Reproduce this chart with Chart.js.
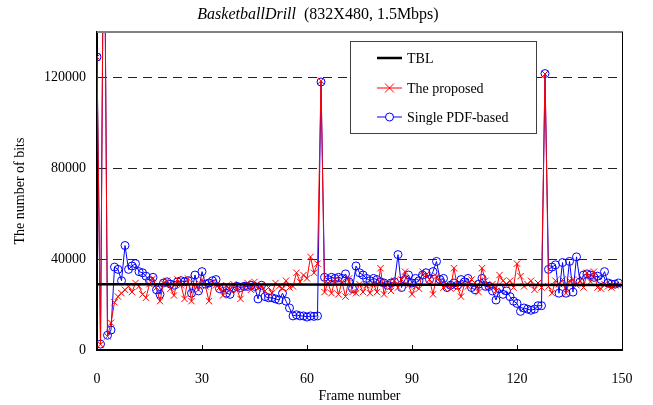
<!DOCTYPE html>
<html>
<head>
<meta charset="utf-8">
<script src="https://cdn.jsdelivr.net/npm/chart.js@4.4.1/dist/chart.umd.min.js"></script>
<style>
  html, body { margin: 0; padding: 0; background: #fff; }
  canvas { display: block; }
</style>
</head>
<body>
<canvas id="chart" width="653" height="405"></canvas>
<script>
const FONT = "'Liberation Serif', 'Times New Roman', serif";

// frame index 0..149
const frames = Array.from({ length: 150 }, (_, i) => i);

// target bit level (TBL)
const tblFrames = [0, 150];
const tblBits = [29000, 28600];

// "The proposed" bits per frame (frame 2 goes far above the plot)
const proposed = [
  129000, 2500, 220000, 6000, 12000, 21000, 23500, 25000, 26500, 28000,
  25500, 29500, 28000, 24500, 23000, 29000, 31500, 27500, 21500, 29500,
  30500, 27000, 24000, 31000, 28500, 22500, 31500, 21500, 29000, 26500,
  31000, 28000, 21500, 29500, 28500, 27500, 24000, 28500, 26500, 29000,
  26500, 22500, 28000, 29500, 26500, 30000, 27000, 28500, 26000, 27500,
  25000, 29500, 28000, 27000, 30500, 27500, 28000, 34000, 30000, 33000,
  31500, 41000, 34000, 38000, 118500, 25500, 29500, 25000, 31000, 24500,
  30000, 23500, 31500, 25500, 25000, 29000, 25500, 28500, 25000, 29000,
  25500, 36000, 24500, 29500, 26000, 30500, 27500, 31000, 34500, 28500,
  24500, 28000, 27000, 34500, 33000, 31000, 24500, 32500, 30000, 27500,
  28500, 27000, 36000, 27500, 23500, 29000, 28000, 31000, 29500, 25500,
  36000, 30500, 28000, 29000, 26000, 33000, 30500, 29000, 30500, 27500,
  38000, 32500, 28000, 29000, 30500, 26500, 29500, 27500, 121500, 28000,
  25000, 30500, 29000, 31000, 25000, 30500, 31000, 28500, 30500, 27500,
  34000, 30000, 34500, 27500, 27000, 29000, 28000, 27500, 28500, 28500
];

// "Single PDF-based" bits per frame
const singlePdf = [
  129000, 2600, 220000, 6500, 8800, 36500, 35500, 30500, 46000, 35500,
  37000, 38000, 34500, 34000, 32500, 30500, 32000, 26500, 24500, 29500,
  30000, 29000, 28500, 30000, 30500, 30000, 30500, 25000, 33000, 26000,
  34500, 29000, 29500, 30500, 31000, 27000, 27500, 25000, 24500, 27500,
  28000, 27500, 28000, 28000, 28500, 28000, 22500, 28500, 23500, 23000,
  23000, 22500, 22000, 25000, 21500, 18500, 15000, 15500, 15000, 15000,
  14500, 15000, 14800, 15000, 118000, 32000, 31000, 32000, 31500, 32000,
  31500, 33500, 30000, 27000, 37000, 34000, 33000, 31500, 30500, 31500,
  31000, 30000, 29500, 28500, 29500, 30000, 42000, 27500, 31000, 33000,
  29500, 31500, 30500, 33000, 34000, 31000, 34500, 39000, 31000, 31500,
  27500, 28500, 29500, 28500, 31000, 30000, 31500, 27500, 26500, 29000,
  31500, 28000, 28000, 26000, 22000, 27000, 24500, 26000, 23500, 21500,
  20500, 17000, 18500, 18000, 17500, 18000, 19500, 19500, 121700, 35500,
  36500, 37500, 25000, 38500, 25000, 39000, 25500, 41000, 30000, 33000,
  33500, 33000, 32000, 32500, 31000, 34500, 29500, 29000, 29000, 29500
];

const xTicks = [0, 30, 60, 90, 120, 150];
const yTicks = [0, 40000, 80000, 120000];

const toXY = (xs, ys) => xs.map((x, i) => ({ x: x, y: ys[i] }));

const decor = {
  id: 'decor',
  afterDraw(chart) {
    const { ctx, chartArea: a, scales: { x } } = chart;
    ctx.save();

    // top and right frame of the plot
    ctx.strokeStyle = '#808080';
    ctx.lineWidth = 2;
    ctx.beginPath();
    ctx.moveTo(a.left, a.top);
    ctx.lineTo(a.right + 1, a.top);
    ctx.stroke();
    ctx.strokeStyle = '#000';
    ctx.lineWidth = 1;
    ctx.beginPath();
    ctx.moveTo(a.right + 0.5, a.top);
    ctx.lineTo(a.right + 0.5, a.bottom);
    ctx.stroke();

    // inward tick marks on the frame axis
    ctx.beginPath();
    xTicks.forEach(v => {
      if (v === 0 || v === 150) return;
      const px = Math.round(x.getPixelForValue(v)) + 0.5;
      ctx.moveTo(px, a.bottom);
      ctx.lineTo(px, a.bottom - 5);
    });
    ctx.stroke();

    // title: italic sequence name + plain parameters
    const t1 = 'BasketballDrill';
    const t2 = '  (832X480, 1.5Mbps)';
    ctx.fillStyle = '#000';
    ctx.textBaseline = 'middle';
    ctx.textAlign = 'left';
    ctx.font = 'italic 16px ' + FONT;
    const w1 = ctx.measureText(t1).width;
    ctx.font = '16px ' + FONT;
    const w2 = ctx.measureText(t2).width;
    const tx = 318 - (w1 + w2) / 2;
    ctx.font = 'italic 16px ' + FONT;
    ctx.fillText(t1, tx, 15);
    ctx.font = '16px ' + FONT;
    ctx.fillText(t2, tx + w1, 15);

    // legend box
    const bx = 350.5, by = 41.5, bw = 186, bh = 92;
    ctx.fillStyle = '#fff';
    ctx.fillRect(bx, by, bw, bh);
    ctx.strokeStyle = '#404040';
    ctx.lineWidth = 1;
    ctx.strokeRect(bx, by, bw, bh);

    const rows = [58, 88, 117];
    chart.data.datasets.forEach((ds, i) => {
      const y = rows[i];
      ctx.strokeStyle = ds.borderColor;
      ctx.lineWidth = ds.borderWidth;
      ctx.beginPath();
      ctx.moveTo(377, y);
      ctx.lineTo(402, y);
      ctx.stroke();
      const cx = 389.5, r = ds.pointRadius;
      ctx.lineWidth = 1;
      ctx.strokeStyle = ds.pointBorderColor || ds.borderColor;
      if (ds.pointStyle === 'crossRot') {
        ctx.beginPath();
        ctx.moveTo(cx - r, y - r); ctx.lineTo(cx + r, y + r);
        ctx.moveTo(cx + r, y - r); ctx.lineTo(cx - r, y + r);
        ctx.stroke();
      } else if (ds.pointStyle === 'circle' && r > 0) {
        ctx.fillStyle = '#fff';
        ctx.beginPath();
        ctx.arc(cx, y, r, 0, Math.PI * 2);
        ctx.fill();
        ctx.stroke();
      }
      ctx.fillStyle = '#000';
      ctx.font = '14px ' + FONT;
      ctx.textBaseline = 'middle';
      ctx.fillText(ds.label, 407, y + 1);
    });

    ctx.restore();
  }
};

new Chart(document.getElementById('chart'), {
  type: 'line',
  data: {
    datasets: [
      {
        label: 'TBL',
        data: toXY(tblFrames, tblBits),
        borderColor: '#000000',
        borderWidth: 2.5,
        pointRadius: 0,
        pointStyle: 'line'
      },
      {
        label: 'The proposed',
        data: toXY(frames, proposed),
        borderColor: '#ff0000',
        borderWidth: 1,
        pointStyle: 'crossRot',
        pointRadius: 4.5,
        pointBorderWidth: 1,
        pointBorderColor: '#ff0000'
      },
      {
        label: 'Single PDF-based',
        data: toXY(frames, singlePdf),
        borderColor: '#0000ff',
        borderWidth: 1,
        pointStyle: 'circle',
        pointRadius: 4,
        pointBorderWidth: 1,
        pointBorderColor: '#0000ff',
        pointBackgroundColor: 'rgba(0,0,0,0)'
      }
    ]
  },
  options: {
    responsive: false,
    animation: false,
    layout: { padding: { top: 32, right: 31, bottom: 0, left: 0 } },
    elements: { line: { tension: 0 } },
    scales: {
      x: {
        type: 'linear',
        min: 0,
        max: 150,
        afterFit: s => { s.height = 55; },
        afterBuildTicks: s => { s.ticks = xTicks.map(v => ({ value: v })); },
        ticks: { color: '#000', padding: 13, font: { family: FONT, size: 14 } },
        grid: { display: false },
        border: { color: '#000', width: 2 },
        title: {
          display: true,
          text: 'Frame number',
          color: '#000',
          padding: { top: 0, bottom: 0 },
          font: { family: FONT, size: 14 }
        }
      },
      y: {
        min: 0,
        max: 140000,
        afterFit: s => { s.width = 97; },
        afterBuildTicks: s => { s.ticks = yTicks.map(v => ({ value: v })); },
        ticks: {
          color: '#000',
          padding: 11,
          font: { family: FONT, size: 14 },
          callback: v => String(v)
        },
        grid: {
          drawTicks: false,
          lineWidth: 1,
          color: c => (c.tick && c.tick.value === 0 ? 'rgba(0,0,0,0)' : '#222')
        },
        border: { color: '#000', width: 2, dash: [9, 6] },
        title: {
          display: true,
          text: 'The number of bits',
          color: '#000',
          padding: { top: 12, bottom: 0 },
          font: { family: FONT, size: 14 }
        }
      }
    },
    plugins: {
      legend: { display: false },
      tooltip: { enabled: false }
    }
  },
  plugins: [decor]
});
</script>
</body>
</html>
